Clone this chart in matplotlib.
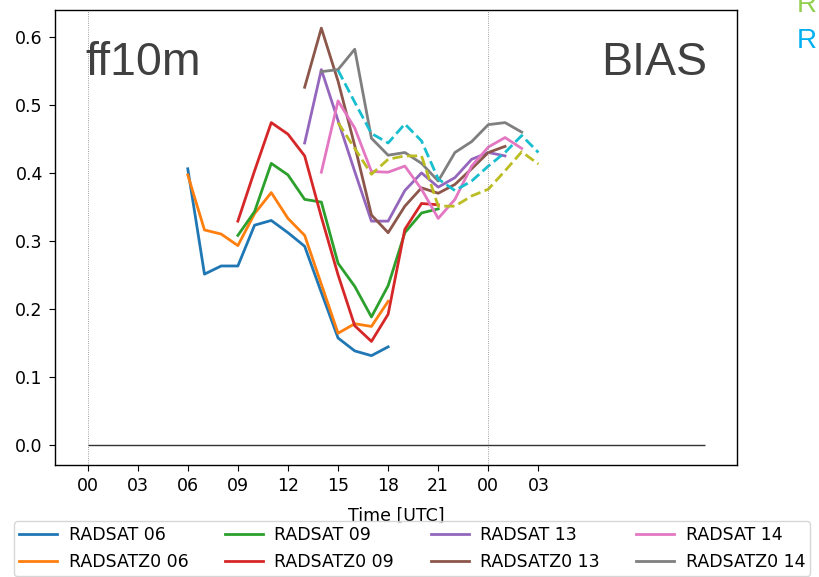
#coding:utf-8
import numpy as np
import matplotlib
matplotlib.use('Agg')
import matplotlib.pyplot as plt

# forecast hours relative to 00 UTC of the first day
hours_06 = np.arange(6, 19)
hours_09 = np.arange(9, 22)
hours_13 = np.arange(13, 26)
hours_14 = np.arange(14, 27)
hours_15 = np.arange(15, 28)

radsat_06 = [0.406, 0.251, 0.263, 0.263, 0.323, 0.330, 0.312, 0.292, 0.224, 0.157, 0.138, 0.131, 0.144]
radsatz0_06 = [0.397, 0.316, 0.310, 0.293, 0.340, 0.371, 0.333, 0.308, 0.236, 0.164, 0.178, 0.174, 0.211]
radsat_09 = [0.308, 0.343, 0.414, 0.397, 0.361, 0.357, 0.267, 0.233, 0.188, 0.234, 0.312, 0.341, 0.347]
radsatz0_09 = [0.329, 0.403, 0.474, 0.457, 0.425, 0.335, 0.250, 0.175, 0.152, 0.192, 0.317, 0.355, 0.353]
radsat_13 = [0.444, 0.552, 0.477, 0.402, 0.329, 0.329, 0.374, 0.400, 0.379, 0.393, 0.420, 0.430, 0.425]
radsatz0_13 = [0.526, 0.613, 0.535, 0.440, 0.338, 0.312, 0.351, 0.378, 0.370, 0.383, 0.406, 0.430, 0.439]
radsat_14 = [0.401, 0.506, 0.466, 0.402, 0.401, 0.410, 0.376, 0.333, 0.361, 0.410, 0.438, 0.452, 0.436]
radsatz0_14 = [0.549, 0.552, 0.582, 0.451, 0.426, 0.430, 0.414, 0.388, 0.430, 0.446, 0.471, 0.474, 0.460]
radsat_15 = [0.474, 0.436, 0.398, 0.420, 0.425, 0.425, 0.351, 0.351, 0.366, 0.376, 0.403, 0.431, 0.413]
radsatz0_15 = [0.551, 0.504, 0.458, 0.444, 0.472, 0.447, 0.391, 0.374, 0.388, 0.410, 0.430, 0.455, 0.430]

xticks = np.arange(0, 28, 3)
xticklabels = ['00', '03', '06', '09', '12', '15', '18', '21', '00', '03']
yticks = np.arange(0.0, 0.61, 0.1)
day_marks = [0, 24]
zero_span = [0, 37]

plt.rcParams['font.size'] = 12.5
plt.rcParams['xtick.major.size'] = 4.4
plt.rcParams['ytick.major.size'] = 4.4
plt.rcParams['xtick.major.pad'] = 4.4
plt.rcParams['ytick.major.pad'] = 4.4

fig = plt.figure(figsize=(8.19, 5.77), dpi=100)
ax = fig.add_axes([0.0672, 0.194, 0.8328, 0.789])

lw = 2.0
ax.plot(hours_06, radsat_06, color='tab:blue', lw=lw, label='RADSAT 06')
ax.plot(hours_06, radsatz0_06, color='tab:orange', lw=lw, label='RADSATZ0 06')
ax.plot(hours_09, radsat_09, color='tab:green', lw=lw, label='RADSAT 09')
ax.plot(hours_09, radsatz0_09, color='tab:red', lw=lw, label='RADSATZ0 09')
ax.plot(hours_13, radsat_13, color='tab:purple', lw=lw, label='RADSAT 13')
ax.plot(hours_13, radsatz0_13, color='tab:brown', lw=lw, label='RADSATZ0 13')
ax.plot(hours_14, radsat_14, color='tab:pink', lw=lw, label='RADSAT 14')
ax.plot(hours_14, radsatz0_14, color='tab:gray', lw=lw, label='RADSATZ0 14')
ax.plot(hours_15, radsat_15, color='tab:olive', lw=lw, ls='--', label='_nolegend_')
ax.plot(hours_15, radsatz0_15, color='tab:cyan', lw=lw, ls='--', label='_nolegend_')

for d in day_marks:
    ax.axvline(d, color='gray', lw=0.6, ls=':')
ax.hlines(0, zero_span[0], zero_span[1], color='#333333', lw=1.0)

ax.set_xlim(-1.95, 38.9)
ax.set_ylim(-0.03, 0.64)
ax.set_xticks(xticks)
ax.set_xticklabels(xticklabels)
ax.set_yticks(yticks)
ax.set_yticklabels(['%.1f' % v for v in yticks])
ax.set_xlabel('Time [UTC]', labelpad=8)
for s in ax.spines.values():
    s.set_linewidth(1.0)

ax.text(0.044, 0.857, 'ff10m', transform=ax.transAxes, fontsize=33.5,
        family='Liberation Sans', color='#404040', ha='left', va='baseline')
ax.text(0.956, 0.857, 'BIAS', transform=ax.transAxes, fontsize=33.5,
        family='Liberation Sans', color='#404040', ha='right', va='baseline')

fig.legend(loc='upper left', bbox_to_anchor=(0.0171, 0.097), ncol=4,
           fontsize=12.5, borderaxespad=0, borderpad=0.3,
           handlelength=2.2, handletextpad=0.65, columnspacing=2.1)

fig.text(0.9728, 0.9797, 'R', fontsize=20, family='Liberation Sans',
         color='#92d050', va='baseline')
fig.text(0.9728, 0.9163, 'R', fontsize=20, family='Liberation Sans',
         color='#00b0f0', va='baseline')

plt.savefig('out.png', dpi=100)
